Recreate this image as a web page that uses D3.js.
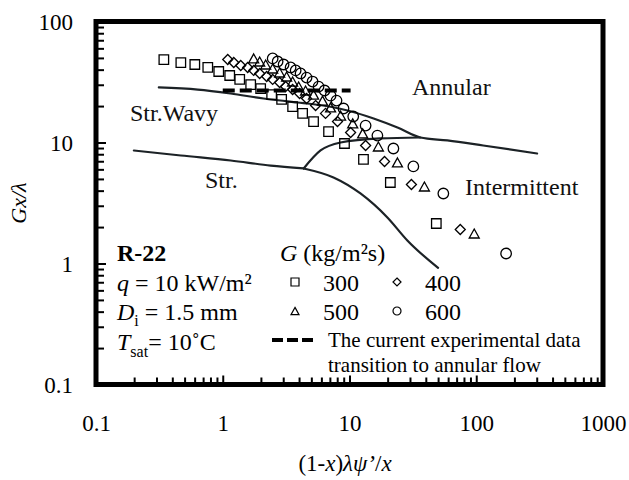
<!DOCTYPE html>
<html>
<head>
<meta charset="utf-8">
<script src="https://cdn.jsdelivr.net/npm/d3@7"></script>
<style>
  html, body { margin: 0; padding: 0; background: #fff; }
  svg { display: block; font-family: "Liberation Serif", "Times New Roman", serif; }
</style>
</head>
<body>
<svg id="chart" width="629" height="480"></svg>
<script>
// Flow-pattern map, R-22 in a 1.5 mm tube (log-log)
const xTickValues = [0.1, 1, 10, 100, 1000];
const yTickValues = [0.1, 1, 10, 100];

// Regime boundaries, pairs of [(1-x)λψ'/x, Gx/λ]
const wavyAnnularLine = [[0.313, 28.5], [0.636, 27.4], [1.156, 25.4], [2.10, 23.1], [3.90, 21.4], [5.21, 20.7], [9.64, 18.4], [15.5, 15.8], [23.9, 13.3], [36.2, 11.0], [59.2, 10.4], [113.5, 9.45], [302, 8.11]];
const intermittentAnnularLine = [[4.35, 6.1], [5.91, 8.59], [8.50, 10.0], [17.5, 10.8], [36.2, 11.0]];
const stratifiedWavyLine = [[0.199, 8.59], [0.467, 7.81], [1.156, 7.10], [2.39, 6.45], [4.35, 6.1]];
const stratifiedIntermittentLine = [[4.35, 6.1], [7.48, 5.14], [12.2, 3.79], [19.9, 2.40], [28.6, 1.55], [50, 0.92]];

// Present experimental transition to annular flow
const transitionX = [1.0, 10.2];
const transitionY = [26.9, 26.9];

// Measured points for each mass flux G (kg/m²s)
const g300X = [0.343, 0.467, 0.602, 0.762, 0.930, 1.135, 1.361, 1.661, 1.991, 2.431, 2.914, 3.558, 4.265, 5.205, 6.834, 9.13, 12.89, 21.0, 48.4];
const g300Y = [48.5, 45.8, 44.1, 41.7, 38.6, 35.8, 33.2, 30.1, 27.9, 24.9, 22.7, 19.8, 17.4, 14.9, 12.3, 9.81, 7.24, 4.67, 2.14];

const g400X = [1.095, 1.221, 1.386, 1.573, 1.754, 1.955, 2.221, 2.476, 2.811, 3.134, 3.558, 4.039, 4.585, 5.40, 6.47, 8.04, 10.2, 13.4, 18.9, 30.8, 74.8];
const g400Y = [48.5, 45.8, 43.3, 41.7, 39.4, 37.2, 35.1, 33.2, 31.3, 29.0, 27.4, 25.4, 23.1, 20.2, 17.4, 14.9, 12.1, 9.45, 6.97, 4.50, 1.91];

const g500X = [1.754, 1.955, 2.181, 2.476, 2.811, 3.19, 3.558, 3.97, 4.50, 5.205, 6.13, 7.09, 8.50, 10.6, 12.7, 16.9, 23.9, 39.0, 96.4];
const g500Y = [49.5, 46.7, 44.1, 40.9, 37.9, 35.1, 31.9, 29.0, 26.9, 24.9, 22.2, 19.5, 16.7, 14.4, 11.9, 9.27, 6.84, 4.33, 1.77];

const g600X = [2.476, 2.71, 3.02, 3.43, 3.76, 4.11, 4.585, 5.11, 5.70, 6.36, 7.09, 7.90, 8.97, 10.7, 13.4, 16.6, 22.2, 31.9, 55.0, 172];
const g600Y = [49.5, 46.7, 44.1, 41.7, 39.4, 37.2, 34.4, 31.9, 29.0, 26.9, 24.4, 22.2, 19.1, 16.4, 13.8, 11.4, 8.92, 6.34, 3.79, 1.21];

const seriesNames = ["300", "400", "500", "600"];

// ---- layout ----
const svg = d3.select("#chart");
const plot = { left: 96, right: 603, top: 21.5, bottom: 384.5 };

const x = d3.scaleLog().domain([0.1, 1000]).range([plot.left, plot.right]);
const y = d3.scaleLog().domain([0.1, 100]).range([plot.bottom, plot.top]);

const FONT = 23;

// marker outlines centred on the origin, w = full width
function shapePath(shape, w) {
  const h = w / 2;
  switch (shape) {
    case "square":   return `M${-h},${-h}H${h}V${h}H${-h}Z`;
    case "diamond":  return `M0,${-h}L${h},0L0,${h}L${-h},0Z`;
    case "triangle": return `M0,${-h * 0.9}L${h},${h * 0.9}L${-h},${h * 0.9}Z`;
    default:         return `M${h},0A${h},${h} 0 1,1 ${-h},0A${h},${h} 0 1,1 ${h},0Z`;
  }
}

const series = [
  { name: seriesNames[0], shape: "square",   size: 9.5,  xs: g300X, ys: g300Y },
  { name: seriesNames[1], shape: "diamond",  size: 10,   xs: g400X, ys: g400Y },
  { name: seriesNames[2], shape: "triangle", size: 10,   xs: g500X, ys: g500Y },
  { name: seriesNames[3], shape: "circle",   size: 10.5, xs: g600X, ys: g600Y }
];

// ---- regime boundaries ----
const curve = d3.line()
  .x(d => x(d[0]))
  .y(d => y(d[1]))
  .curve(d3.curveMonotoneX);

svg.append("g")
  .selectAll("path")
  .data([wavyAnnularLine, intermittentAnnularLine, stratifiedWavyLine, stratifiedIntermittentLine])
  .join("path")
  .attr("d", curve)
  .attr("fill", "none")
  .attr("stroke", "#1c2226")
  .attr("stroke-width", 2.2)
  .attr("stroke-linecap", "round");

// ---- transition line (dashed) ----
svg.append("path")
  .datum(transitionX.map((v, i) => [v, transitionY[i]]))
  .attr("d", d3.line().x(d => x(d[0])).y(d => y(d[1])))
  .attr("fill", "none")
  .attr("stroke", "#000")
  .attr("stroke-width", 3.8)
  .attr("stroke-dasharray", "12,5");

// ---- measured points ----
series.forEach(s => {
  svg.append("g")
    .selectAll("path")
    .data(s.xs.map((v, i) => [v, s.ys[i]]))
    .join("path")
    .attr("transform", d => `translate(${x(d[0])},${y(d[1])})`)
    .attr("d", shapePath(s.shape, s.size))
    .attr("fill", "none")
    .attr("stroke", "#000")
    .attr("stroke-width", 1.3);
});

// ---- region labels ----
const regionLabels = [
  { text: "Annular",      at: [412, 95] },
  { text: "Intermittent", at: [465, 195] },
  { text: "Str.Wavy",     at: [130, 121] },
  { text: "Str.",         at: [205, 188] }
];
svg.append("g")
  .selectAll("text")
  .data(regionLabels)
  .join("text")
  .attr("x", d => d.at[0])
  .attr("y", d => d.at[1])
  .attr("font-size", 24)
  .attr("fill", "#111")
  .text(d => d.text);

// ---- axes ----
const minorX = x.ticks().filter(v => !xTickValues.some(t => Math.abs(t - v) < 1e-9));
const minorY = y.ticks().filter(v => !yTickValues.some(t => Math.abs(t - v) < 1e-9));

function styleAxis(g) {
  g.select(".domain").remove();
  g.selectAll(".tick line").attr("stroke", "#000").attr("stroke-width", 2);
  g.selectAll(".tick text").attr("font-size", FONT).attr("font-family", "Liberation Serif").attr("fill", "#000");
}

svg.append("g")
  .attr("transform", `translate(0,${plot.bottom})`)
  .call(d3.axisBottom(x).tickValues(minorX).tickSize(-7).tickFormat(""))
  .call(styleAxis);
svg.append("g")
  .attr("transform", `translate(0,${plot.bottom})`)
  .call(d3.axisBottom(x).tickValues(xTickValues).tickSize(-9).tickPadding(30).tickFormat(d3.format("~g")))
  .call(styleAxis);

svg.append("g")
  .attr("transform", `translate(${plot.left},0)`)
  .call(d3.axisLeft(y).tickValues(minorY).tickSize(-8).tickFormat(""))
  .call(styleAxis);
svg.append("g")
  .attr("transform", `translate(${plot.left},0)`)
  .call(d3.axisLeft(y).tickValues(yTickValues).tickSize(-10).tickPadding(23).tickFormat(d3.format("~g")))
  .call(styleAxis)
  .call(g => g.selectAll(".tick text").attr("dy", "0.36em"));

// frame
svg.append("rect")
  .attr("x", plot.left).attr("y", plot.top)
  .attr("width", plot.right - plot.left)
  .attr("height", plot.bottom - plot.top)
  .attr("fill", "none")
  .attr("stroke", "#000")
  .attr("stroke-width", 5);

// axis titles
const xTitle = svg.append("text")
  .attr("x", 345).attr("y", 471)
  .attr("text-anchor", "middle")
  .attr("font-size", FONT);
xTitle.append("tspan").text("(1-");
xTitle.append("tspan").attr("font-style", "italic").text("x");
xTitle.append("tspan").text(")");
xTitle.append("tspan").attr("font-style", "italic").text("λψ’");
xTitle.append("tspan").text("/");
xTitle.append("tspan").attr("font-style", "italic").text("x");

svg.append("text")
  .attr("transform", "translate(26,203) rotate(-90)")
  .attr("text-anchor", "middle")
  .attr("font-size", 22)
  .attr("font-style", "italic")
  .text("Gx/λ");

// ---- legend / conditions ----
const legend = svg.append("g").attr("font-size", 24).attr("fill", "#000");

legend.append("text").attr("x", 117).attr("y", 261).attr("font-weight", "bold").text("R-22");

const qLine = legend.append("text").attr("x", 117).attr("y", 291);
qLine.append("tspan").attr("font-style", "italic").text("q");
qLine.append("tspan").text(" = 10 kW/m²");

const dLine = legend.append("text").attr("x", 117).attr("y", 320);
dLine.append("tspan").attr("font-style", "italic").text("D");
dLine.append("tspan").attr("font-size", 16).attr("dy", 6).text("i");
dLine.append("tspan").attr("dy", -6).text(" = 1.5 mm");

const tLine = legend.append("text").attr("x", 117).attr("y", 350);
tLine.append("tspan").attr("font-style", "italic").text("T");
tLine.append("tspan").attr("font-size", 16).attr("dy", 7).text("sat");
tLine.append("tspan").attr("dy", -7).text("= 10˚C");

const gHead = legend.append("text").attr("x", 280).attr("y", 261);
gHead.append("tspan").attr("font-style", "italic").text("G");
gHead.append("tspan").text(" (kg/m²s)");

const legendSlots = [
  { mx: 295, my: 282, tx: 323, ty: 291 },
  { mx: 397, my: 282, tx: 425, ty: 291 },
  { mx: 295, my: 311, tx: 323, ty: 320 },
  { mx: 397, my: 311, tx: 425, ty: 320 }
];
series.forEach((s, i) => {
  const slot = legendSlots[i];
  legend.append("path")
    .attr("transform", `translate(${slot.mx},${slot.my})`)
    .attr("d", shapePath(s.shape, 8))
    .attr("fill", "none")
    .attr("stroke", "#000")
    .attr("stroke-width", 1.2);
  legend.append("text").attr("x", slot.tx).attr("y", slot.ty).text(s.name);
});

legend.append("line")
  .attr("x1", 272).attr("x2", 313)
  .attr("y1", 340).attr("y2", 340)
  .attr("stroke", "#000")
  .attr("stroke-width", 3.8)
  .attr("stroke-dasharray", "11,4");

legend.append("text").attr("x", 328).attr("y", 347).attr("font-size", 21).text("The current experimental data");
legend.append("text").attr("x", 328).attr("y", 372).attr("font-size", 21).text("transition to annular flow");
</script>
</body>
</html>
